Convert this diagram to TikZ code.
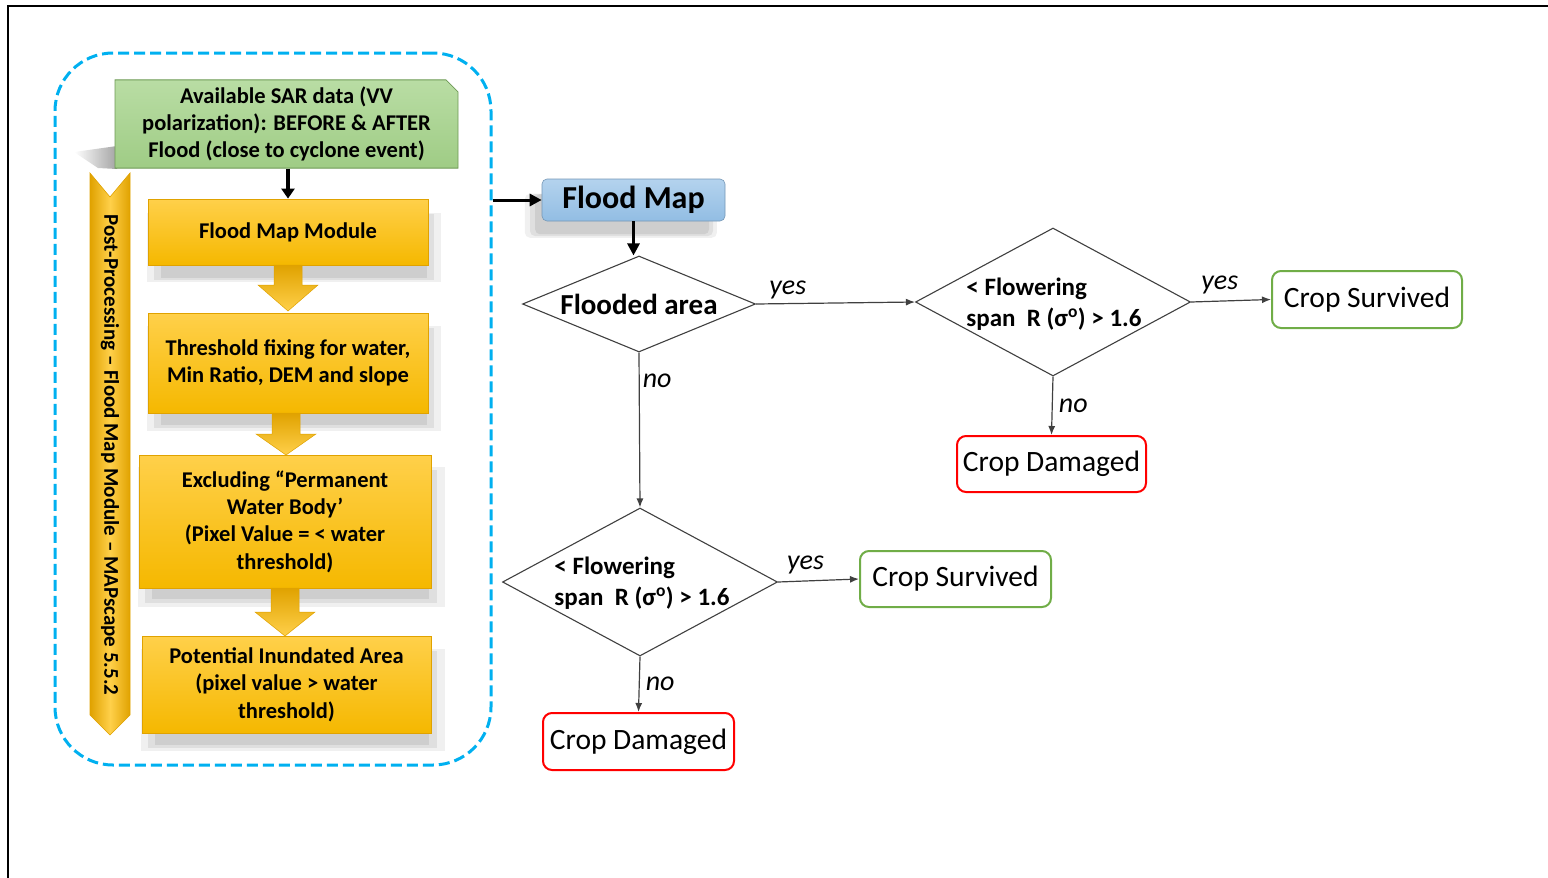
\documentclass[tikz,border=0pt]{standalone}
\usepackage{fontspec}
\setmainfont{Carlito}
\usetikzlibrary{shapes.geometric,shapes.misc,arrows.meta,shadows,calc}
\definecolor{goldA}{HTML}{FFD04A}
\definecolor{goldB}{HTML}{F5B800}
\definecolor{goldE}{HTML}{E0A200}
\definecolor{greenA}{HTML}{B9DDA4}
\definecolor{greenB}{HTML}{9FCC85}
\definecolor{greenE}{HTML}{6E9A55}
\definecolor{blueA}{HTML}{B4D3EE}
\definecolor{blueB}{HTML}{92BDE3}
\definecolor{dashblue}{HTML}{00B0F0}
\definecolor{okgreen}{HTML}{70AD47}
\definecolor{badred}{HTML}{FF0000}
\definecolor{lineg}{HTML}{404040}
\tikzset{
  softshadow/.style 2 args={
    general shadow={fill=black, opacity=0.06, shadow xshift=#1, shadow yshift=#2, shadow scale=1.05},
    general shadow={fill=black, opacity=0.07, shadow xshift=#1, shadow yshift=#2, shadow scale=1.0},
    general shadow={fill=black, opacity=0.08, shadow xshift=#1, shadow yshift=#2, shadow scale=0.95}},
  ybox/.style={rectangle, draw=goldE, line width=0.8pt, top color=goldA, bottom color=goldB,
    align=center, inner sep=2pt, font=\bfseries\fontsize{22.5}{27.3}\selectfont,
    softshadow={6pt}{-15pt}},
  outcome/.style={rectangle, rounded corners=9pt, line width=2pt, fill=white,
    font=\fontsize{29.5}{32}\selectfont, inner sep=0pt},
  decision/.style={diamond, draw=lineg, line width=1.1pt, fill=white, inner sep=0pt},
  dtext/.style={align=left, font=\bfseries\fontsize{25}{31}\selectfont, inner sep=0pt},
  conn/.style={draw=lineg, line width=1.2pt, -{Latex[length=9pt,width=7pt]}},
  bigconn/.style={draw=black, line width=3pt, -{Triangle[length=12pt,width=12pt]}},
  lbl/.style={font=\itshape\fontsize{28}{30}\selectfont, inner sep=0pt},
}
\newcommand{\goldarr}[4]{% x, ytop, yhead, ybottom
  \shade[top color=goldE, bottom color=goldA, draw=goldE, line width=0.5pt]
    (#1-14,#2) -- (#1+14,#2) -- (#1+14,#3) -- (#1+30,#3) -- (#1,#4) -- (#1-30,#3) -- (#1-14,#3) -- cycle;}
\begin{document}
\begin{tikzpicture}[x=1pt,y=-1pt]
\useasboundingbox (0,0) rectangle (1548,878);
% outer frame
\draw[line width=2pt] (8,878) -- (8,6) -- (1548,6);
% dashed container
\node[draw=dashblue, dash pattern=on 11pt off 5pt, line width=3pt, rounded corners=58pt,
  minimum width=436pt, minimum height=712pt] (frame) at (273,409) {};
% green box shadow wedge
\shade[left color=white, right color=black!45, opacity=0.8]
  (117,146) -- (74,152) -- (98,168) -- (117,169) -- cycle;
% green box
\node[chamfered rectangle, chamfered rectangle corners=north east, chamfered rectangle xsep=6pt,
  chamfered rectangle ysep=6pt, draw=greenE, line width=0.8pt, top color=greenA, bottom color=greenB,
  minimum width=343pt, minimum height=88pt, align=center, inner sep=1pt,
  font=\bfseries\fontsize{22.5}{27}\selectfont]
  (sar) at (286.5,124) {Available SAR data (VV\\polarization): BEFORE \& AFTER\\Flood (close to cyclone event)};
% vertical chevron arrow
\shade[left color=goldE, right color=goldE, middle color=goldA, draw=goldE, line width=0.6pt]
  (90,173) -- (110,197) -- (130,173) -- (130,715) -- (110,735) -- (90,715) -- cycle;
\node[rotate=-90, font=\bfseries\fontsize{21}{23}\selectfont, inner sep=0pt] (side) at (110,455)
  {Post-Processing – Flood Map Module – MAPscape 5.5.2};
% yellow boxes
\node[ybox, minimum width=280pt, minimum height=66pt] (m1) at (288,232) {Flood Map Module};
\node[ybox, minimum width=280pt, minimum height=100pt] (m2) at (288,363) {Threshold fixing for water,\\Min Ratio, DEM and slope};
\node[ybox, minimum width=292pt, minimum height=133pt] (m3) at (285,521.5) {Excluding “Permanent\\Water Body’\\(Pixel Value = < water\\threshold)};
\node[ybox, minimum width=289pt, minimum height=97pt] (m4) at (286.5,684.5) {Potential Inundated Area\\(pixel value > water\\threshold)};
\goldarr{288}{265}{285}{311}
\goldarr{286}{413}{434}{455}
\goldarr{285}{588}{612}{636}
\coordinate (sarb) at (sar.south -| m1.north);
\draw[draw=black, line width=3.2pt, -{Triangle[length=10pt,width=13pt]}] (sarb) -- (m1.north);
% flood map
\node[rectangle, rounded corners=5pt, draw=blueB!80!black, line width=0.6pt, top color=blueA, bottom color=blueB,
  minimum width=183pt, minimum height=42pt, inner sep=0pt, font=\bfseries\fontsize{32}{34}\selectfont,
  softshadow={-12pt}{-15pt}]
  (fm) at (633.5,200) {Flood Map};
\draw[bigconn] (frame.east |- fm) -- (fm.west);
% decisions
\node[decision, minimum width=233pt, minimum height=96pt] (d1) at (639,304) {};
\node[font=\bfseries\fontsize{29}{32}\selectfont, inner sep=0pt] (t1) at (d1.center) {Flooded area};
\node[decision, minimum width=275pt, minimum height=148pt] (d2) at (1053,302) {};
\node[dtext] (t2) at (1054,304) {< Flowering\\span~ R (σ\textsuperscript{o}) > 1.6};
\node[decision, minimum width=275pt, minimum height=148pt] (d3) at (640,582) {};
\node[dtext] (t3) at (642,583) {< Flowering\\span~ R (σ\textsuperscript{o}) > 1.6};
\draw[bigconn, line width=2.8pt] (fm.south) -- (fm.south |- d1.north);
% outcomes
\node[outcome, draw=okgreen, minimum width=190pt, minimum height=57pt] (s1) at (1367,299.5) {Crop Survived};
\node[outcome, draw=badred, minimum width=189pt, minimum height=56pt] (c1) at (1051.5,464) {Crop Damaged};
\node[outcome, draw=okgreen, minimum width=191pt, minimum height=56pt] (s2) at (955.5,579) {Crop Survived};
\node[outcome, draw=badred, minimum width=191pt, minimum height=57pt] (c2) at (638.5,741.5) {Crop Damaged};
% connectors
\draw[conn] (d1.east) -- (d2.west) node[lbl, pos=0.2, above=4pt] (y1) {yes};
\draw[conn] (d2.east) -- (s1.west) node[lbl, pos=0.36, above=6pt] (y2) {yes};
\draw[conn] (d2.south) -- (c1.north) node[lbl, pos=0.5, right=6pt] (n2) {no};
\draw[conn] (d1.south) -- (d3.north) node[lbl, pos=0.18, right=3pt] (n1) {no};
\draw[conn] (d3.east) -- (s2.west) node[lbl, pos=0.34, above=6pt] (y3) {yes};
\draw[conn] (d3.south) -- (c2.north) node[lbl, pos=0.5, right=6pt] (n3) {no};
\end{tikzpicture}
\end{document}
